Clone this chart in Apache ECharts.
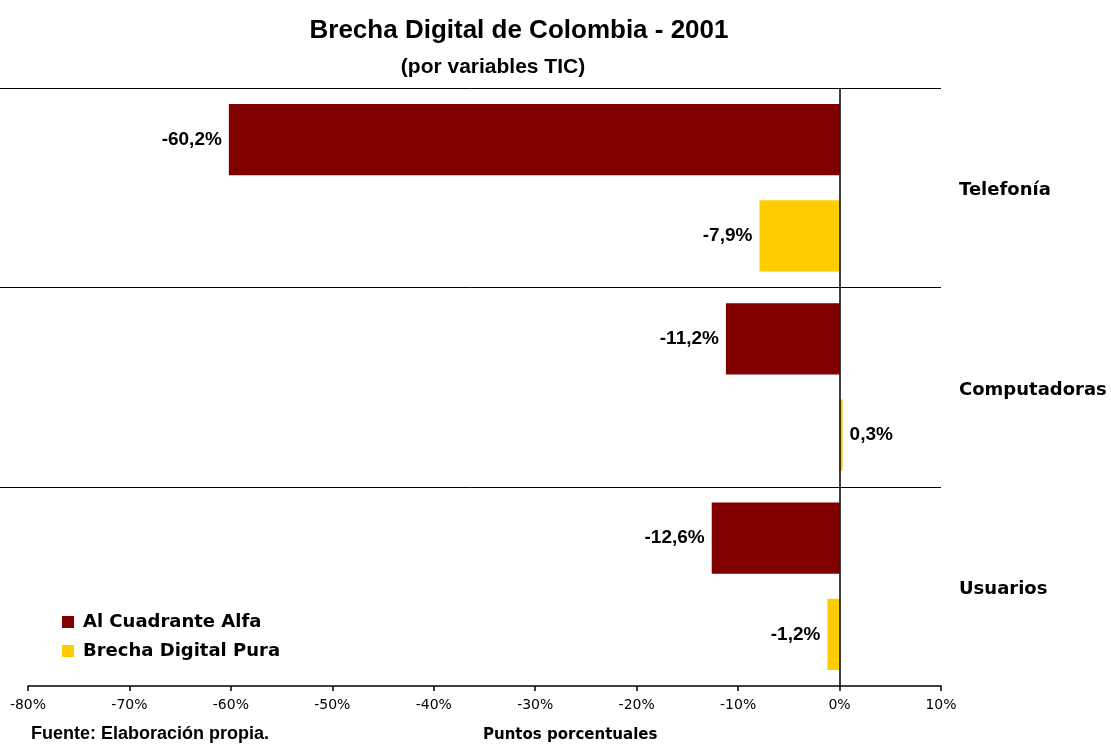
<!DOCTYPE html>
<html>
<head>
<meta charset="utf-8">
<script src="https://cdn.jsdelivr.net/npm/echarts@6/dist/echarts.min.js"></script>
<style>
  html, body { margin: 0; padding: 0; background: #fff; }
  #chart { width: 1111px; height: 745px; }
</style>
</head>
<body>
<div id="chart"></div>
<script>
// datos del grafico
const categories = ['Telefonía', 'Computadoras', 'Usuarios'];
const seriesNames = ['Al Cuadrante Alfa', 'Brecha Digital Pura'];
const cuadranteAlfa = [-60.2, -11.2, -12.6];
const brechaPura = [-7.9, 0.3, -1.2];
const xTicks = { min: -80, max: 10, interval: 10 };

const arial = '"Liberation Sans", Arial, sans-serif';
const verdana = '"DejaVu Sans", Verdana, sans-serif';

// etiqueta a la izquierda si es negativo, a la derecha si es positivo
const toData = arr => arr.map(v => ({
    value: v,
    label: { position: v < 0 ? 'left' : 'right' }
}));
const fmt = p => p.value.toFixed(1).replace('.', ',') + '%';

const barLabel = {
    show: true,
    distance: 7,
    formatter: fmt,
    color: '#000',
    fontFamily: arial,
    fontWeight: 'bold',
    fontSize: 19
};

const chart = echarts.init(document.getElementById('chart'), null, { renderer: 'canvas' });

const option = {
    animation: false,
    backgroundColor: '#fff',
    title: [
        {
            text: 'Brecha Digital de Colombia - 2001',
            left: 514, top: 13, textAlign: 'center',
            textStyle: { fontFamily: arial, fontWeight: 'bold', fontSize: 26, color: '#000' }
        },
        {
            text: '(por variables TIC)',
            left: 488, top: 52, textAlign: 'center',
            textStyle: { fontFamily: arial, fontWeight: 'bold', fontSize: 21, color: '#000' }
        },
        {
            text: 'Fuente: Elaboración propia.',
            left: 26, top: 720,
            textStyle: { fontFamily: arial, fontWeight: 'bold', fontSize: 18, color: '#000' }
        },
        {
            text: 'Puntos porcentuales',
            left: 478, top: 723,
            textStyle: { fontFamily: verdana, fontWeight: 'bold', fontSize: 15, color: '#000' }
        }
    ],
    legend: {
        orient: 'vertical',
        left: 57, top: 608,
        itemWidth: 12, itemHeight: 12,
        itemGap: 11,
        icon: 'rect',
        data: seriesNames,
        textStyle: { fontFamily: verdana, fontWeight: 'bold', fontSize: 18, color: '#000', padding: [0, 0, 0, 4] }
    },
    grid: { left: 28, right: 170, top: 88, bottom: 59 },
    xAxis: {
        type: 'value',
        min: xTicks.min, max: xTicks.max, interval: xTicks.interval,
        axisLine: { show: true, onZero: false, lineStyle: { color: '#000', width: 1.5 } },
        axisTick: { show: true, length: 5, lineStyle: { color: '#000', width: 1.5 } },
        splitLine: { show: false },
        axisLabel: { formatter: '{value}%', color: '#000', fontFamily: verdana, fontSize: 14, margin: 12 }
    },
    yAxis: [
        {
            type: 'category',
            data: categories,
            inverse: true,
            position: 'left',
            axisLine: { show: false },
            axisTick: { show: false },
            axisLabel: { show: false },
            splitLine: { show: false }
        },
        {
            type: 'category',
            data: categories,
            inverse: true,
            position: 'right',
            axisLine: { show: false },
            axisTick: { show: false },
            splitLine: { show: false },
            axisLabel: {
                margin: 18,
                formatter: '{c|{value}}',
                rich: {
                    c: { color: '#000', fontFamily: verdana, fontWeight: 'bold', fontSize: 18, padding: [6, 0, 0, 0] }
                }
            }
        }
    ],
    series: [
        {
            name: seriesNames[0],
            type: 'bar',
            yAxisIndex: 0,
            data: toData(cuadranteAlfa),
            itemStyle: { color: '#800000' },
            barCategoryGap: '16%',
            barGap: '35%',
            label: barLabel,
            markLine: {
                silent: true,
                symbol: 'none',
                label: { show: false },
                lineStyle: { color: '#000', width: 1.5, type: 'solid' },
                data: [{ xAxis: 0 }]
            }
        },
        {
            name: seriesNames[1],
            type: 'bar',
            yAxisIndex: 0,
            data: toData(brechaPura),
            itemStyle: { color: '#FFCC00' },
            barCategoryGap: '16%',
            barGap: '35%',
            label: barLabel
        }
    ]
};

chart.setOption(option);

// separadores de categoria: desde el borde izquierdo hasta el final del eje
const y0 = chart.convertToPixel({ yAxisIndex: 0 }, categories[0]);
const y1 = chart.convertToPixel({ yAxisIndex: 0 }, categories[1]);
const band = y1 - y0;
const xRight = chart.convertToPixel({ xAxisIndex: 0 }, xTicks.max);
chart.setOption({
    graphic: categories.map(c => {
        const y = Math.round(chart.convertToPixel({ yAxisIndex: 0 }, c) - band / 2) + 0.5;
        return {
            type: 'line',
            silent: true,
            z: 1,
            shape: { x1: 0, y1: y, x2: xRight, y2: y },
            style: { stroke: '#000', lineWidth: 1 }
        };
    })
});
</script>
</body>
</html>
